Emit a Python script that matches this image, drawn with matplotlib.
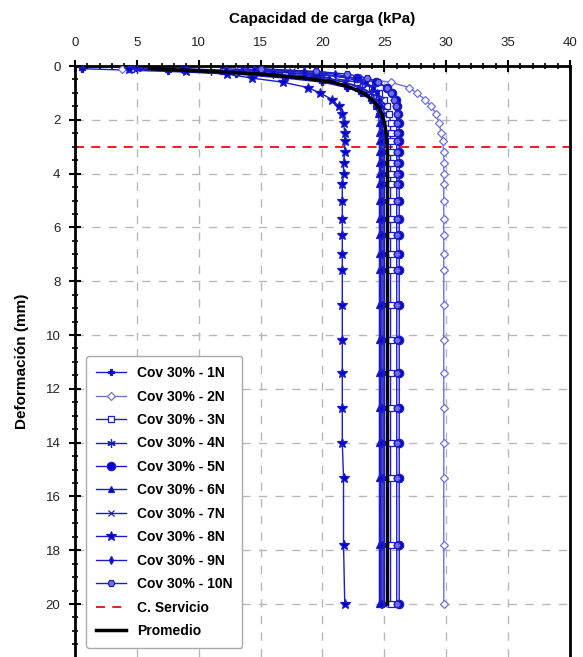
import numpy as np
import matplotlib
matplotlib.use('Agg')
import matplotlib.pyplot as plt
from matplotlib.ticker import MultipleLocator

plt.rcParams['font.family'] = ['Liberation Sans', 'DejaVu Sans']

# Deformation (mm) at which every test was read
deformacion = [0.1, 0.2, 0.3, 0.45, 0.6, 0.8, 1.0, 1.25, 1.5, 1.8, 2.1, 2.5, 2.8, 3.2, 3.6,
               4.0, 4.4, 5.0, 5.7, 6.3, 7.0, 7.6, 8.9, 10.2, 11.4, 12.7, 14.0, 15.3, 17.8, 20.0]

# Bearing capacity (kPa) for each test
cov_1n = [0.6, 7.5, 13.0, 17.0, 20.0, 22.0, 23.1, 23.9, 24.3, 24.6, 24.8, 24.9, 24.9, 24.9, 24.9,
          24.9, 24.9, 24.9, 24.9, 24.9, 24.9, 24.9, 24.9, 24.9, 24.9, 24.9, 24.9, 24.9, 24.9, 24.9]
cov_2n = [3.8, 13.0, 18.5, 23.0, 25.5, 27.0, 27.6, 28.3, 28.8, 29.2, 29.4, 29.6, 29.7, 29.8, 29.8,
          29.8, 29.8, 29.8, 29.8, 29.8, 29.8, 29.8, 29.8, 29.8, 29.8, 29.8, 29.8, 29.8, 29.8, 29.8]
cov_3n = [4.5, 12.0, 17.0, 20.8, 22.8, 24.0, 24.6, 25.0, 25.2, 25.4, 25.5, 25.5, 25.5, 25.5, 25.5,
          25.5, 25.5, 25.5, 25.5, 25.5, 25.5, 25.5, 25.5, 25.5, 25.5, 25.5, 25.5, 25.5, 25.5, 25.5]
cov_4n = [5.0, 11.0, 16.0, 19.8, 21.8, 23.2, 23.9, 24.3, 24.5, 24.7, 24.8, 24.8, 24.8, 24.8, 24.8,
          24.8, 24.8, 24.8, 24.8, 24.8, 24.8, 24.8, 24.8, 24.8, 24.8, 24.8, 24.8, 24.8, 24.8, 24.8]
cov_5n = [8.8, 15.0, 19.5, 22.8, 24.3, 25.2, 25.6, 25.9, 26.0, 26.1, 26.2, 26.2, 26.2, 26.2, 26.2,
          26.2, 26.2, 26.2, 26.2, 26.2, 26.2, 26.2, 26.2, 26.2, 26.2, 26.2, 26.2, 26.2, 26.2, 26.2]
cov_6n = [12.2, 16.0, 18.5, 20.5, 21.8, 22.9, 23.5, 24.0, 24.3, 24.5, 24.6, 24.6, 24.6, 24.6, 24.6,
          24.6, 24.6, 24.6, 24.6, 24.6, 24.6, 24.6, 24.6, 24.6, 24.6, 24.6, 24.6, 24.6, 24.6, 24.6]
cov_7n = [13.5, 17.5, 20.0, 22.0, 23.2, 24.0, 24.4, 24.7, 24.9, 25.0, 25.0, 25.0, 25.0, 25.0, 25.0,
          25.0, 25.0, 25.0, 25.0, 25.0, 25.0, 25.0, 25.0, 25.0, 25.0, 25.0, 25.0, 25.0, 25.0, 25.0]
cov_8n = [4.4, 9.0, 12.3, 14.3, 16.8, 18.8, 19.8, 20.8, 21.3, 21.6, 21.7, 21.8, 21.8, 21.8, 21.7,
          21.7, 21.6, 21.6, 21.6, 21.6, 21.6, 21.6, 21.6, 21.6, 21.6, 21.6, 21.6, 21.7, 21.7, 21.8]
cov_9n = [14.5, 18.5, 21.0, 22.6, 23.5, 24.1, 24.4, 24.6, 24.7, 24.7, 24.7, 24.7, 24.7, 24.7, 24.7,
          24.7, 24.7, 24.7, 24.7, 24.7, 24.7, 24.7, 24.7, 24.7, 24.7, 24.7, 24.7, 24.7, 24.7, 24.7]
cov_10n = [15.0, 19.5, 22.0, 23.6, 24.5, 25.2, 25.5, 25.8, 25.9, 26.0, 26.0, 26.0, 26.0, 26.0, 26.0,
           26.0, 26.0, 26.0, 26.0, 26.0, 26.0, 26.0, 26.0, 26.0, 26.0, 26.0, 26.0, 26.0, 26.0, 26.0]
promedio = [6.0, 11.0, 15.0, 18.5, 20.8, 22.3, 23.3, 24.0, 24.5, 24.8, 25.0, 25.15, 25.2, 25.25, 25.25,
            25.25, 25.25, 25.25, 25.25, 25.25, 25.25, 25.25, 25.25, 25.25, 25.25, 25.25, 25.25, 25.25, 25.25, 25.25]

etiquetas = ['Cov 30% - 1N', 'Cov 30% - 2N', 'Cov 30% - 3N', 'Cov 30% - 4N', 'Cov 30% - 5N',
             'Cov 30% - 6N', 'Cov 30% - 7N', 'Cov 30% - 8N', 'Cov 30% - 9N', 'Cov 30% - 10N']
servicio = 3.0

series = [cov_1n, cov_2n, cov_3n, cov_4n, cov_5n, cov_6n, cov_7n, cov_8n, cov_9n, cov_10n]
# marker, size, face colour
estilos = [('P', 5, '#0000c8'), ('D', 4, 'white'), ('s', 5, 'white'), ((6, 2, 0), 6, '#0000c8'),
           ('o', 6, '#0000c8'), ('^', 5, '#0000c8'), ('x', 5, '#0000c8'), ('*', 7, '#0000c8'),
           ('d', 4, '#0000c8'), ('H', 5, '#7070e0')]

fig = plt.figure(figsize=(5.83, 6.57), dpi=100)
ax = fig.add_axes([0.1286, 0.0, 0.8491, 0.8995])

# Test curves
for vals, lab, (mk, ms, fc) in zip(series, etiquetas, estilos):
    col = '#7070dd' if mk == 'D' else '#1c1cc8'
    ax.plot(vals, deformacion, color=col, lw=1.0, marker=mk, markersize=ms,
            markerfacecolor=fc, markeredgecolor=col, markeredgewidth=0.9, label=lab, zorder=3)

# Service line and average
ax.axhline(servicio, color='#e01010', lw=1.3, ls=(0, (5, 4)), label='C. Servicio', zorder=2)
ax.plot(promedio, deformacion, color='black', lw=2.5, label='Promedio', zorder=4)

# Axes
ax.set_xlim(0, 40)
ax.set_ylim(21.97, 0)
ax.xaxis.tick_top()
ax.xaxis.set_label_position('top')
ax.xaxis.set_major_locator(MultipleLocator(5))
ax.xaxis.set_minor_locator(MultipleLocator(1))
ax.yaxis.set_major_locator(MultipleLocator(2))
ax.yaxis.set_minor_locator(MultipleLocator(0.5))
ax.tick_params(which='major', direction='inout', length=9, width=1.5, labelsize=9.5,
               labelcolor='#222222', pad=8)
ax.tick_params(axis='y', which='major', pad=6)
ax.tick_params(which='minor', direction='inout', length=5, width=1.2)
ax.set_xlabel('Capacidad de carga (kPa)', fontsize=11, fontweight='bold', labelpad=10)
ax.set_ylabel('Deformación (mm)', fontsize=11, fontweight='bold', labelpad=12)
for s in ['left', 'top', 'right']:
    ax.spines[s].set_linewidth(2)
ax.spines['bottom'].set_visible(False)
ax.grid(True, which='major', color='#b8b8b8', ls=(0, (6, 6)), lw=1.0)

leg = ax.legend(loc='lower left', bbox_to_anchor=(0.008, 0.004),
                prop={'weight': 'bold', 'size': 10}, labelspacing=0.68, handlelength=2.2,
                fancybox=True, framealpha=1, edgecolor='#aaaaaa', borderpad=0.7)
leg.get_frame().set_linewidth(1.0)

plt.savefig('out.png', dpi=100)
